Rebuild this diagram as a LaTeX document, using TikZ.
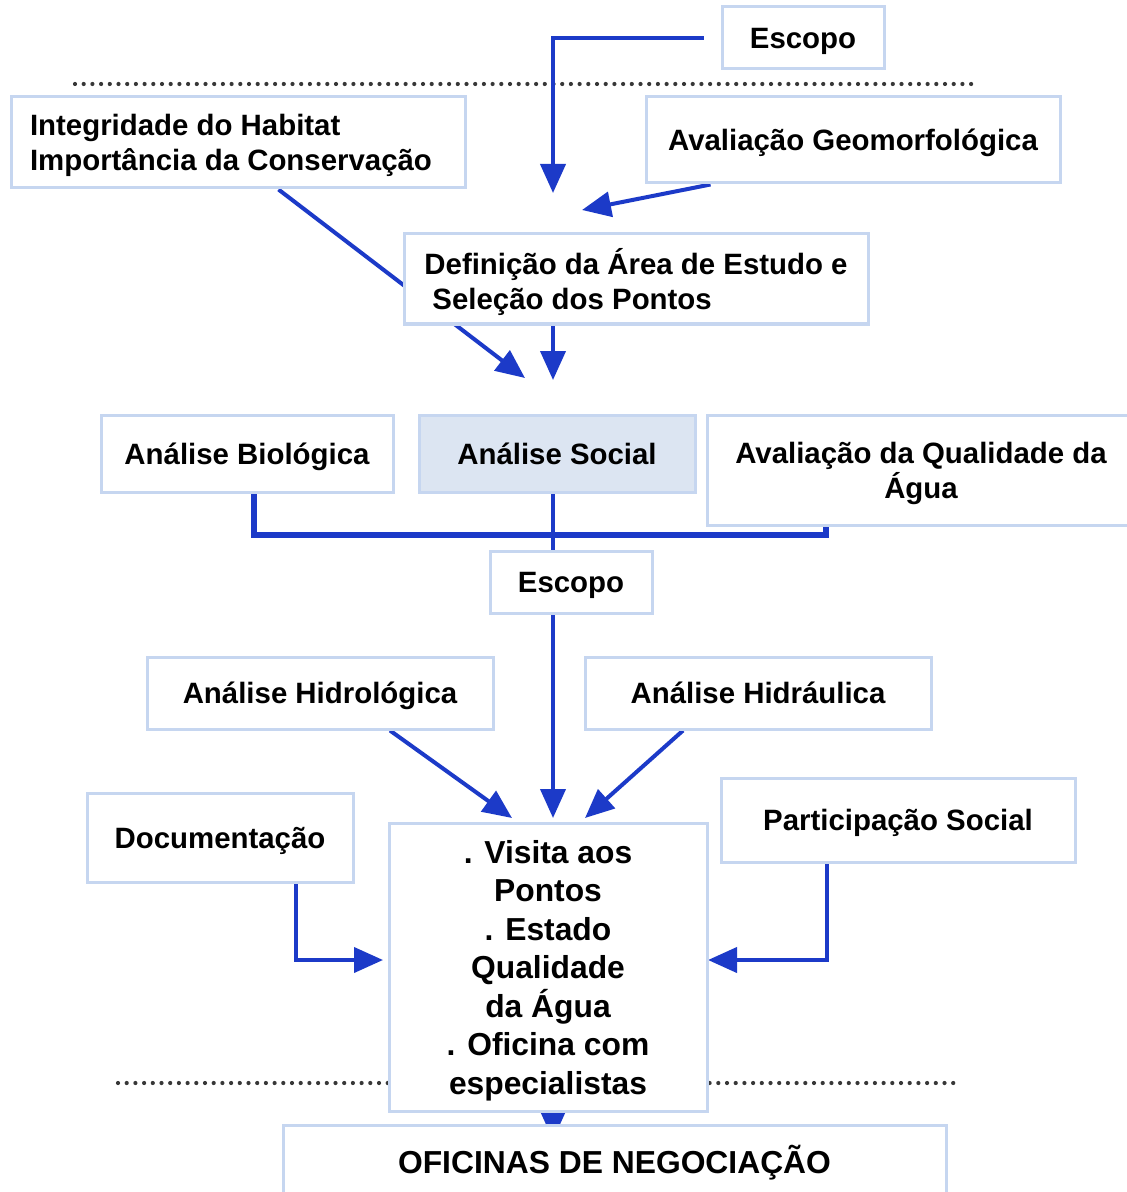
\documentclass[tikz,border=0pt]{standalone}
\usepackage{fontspec}
\setmainfont{Liberation Sans}
\usetikzlibrary{positioning,arrows.meta,calc}
\pgfdeclarelayer{bg}
\pgfsetlayers{bg,main}
\definecolor{boxline}{RGB}{198,214,240}
\definecolor{socialfill}{RGB}{220,229,242}
\definecolor{flowblue}{RGB}{28,58,200}
\definecolor{dotgray}{RGB}{55,55,55}
\tikzset{
	>={Triangle[length=14.5pt,width=12.5pt]}
}

\begin{document}
\begin{tikzpicture}[
x = 0.5pt, y = -0.5pt,
every node/.style = {
	font = \bfseries\fontsize{14.7pt}{17.5pt}\selectfont
},
box/.style = {
	draw = boxline,
	line width = 1.5pt,
	fill = white,
	align = center,
	inner sep = 0pt,
	text depth = 0pt
},
flow/.style = {
	->,
	flowblue,
	line width = 2pt
},
bus/.style = {
	flowblue,
	line width = 2.8pt
},
dots/.style = {
	dotgray,
	line width = 2.1pt,
	line cap = round,
	dash pattern = on 0pt off 4.35pt
}
]

\useasboundingbox (0,0) rectangle (1126,1192);

\node [box, minimum width=81pt, minimum height=31pt] (escopoTop) at (803,38) {Escopo};
\node [box, align=left, minimum width=227pt, minimum height=45.5pt] (habitat) at (238,142.5) {Integridade do Habitat\\Importância da Conservação\hspace*{7pt}};
\node [box, minimum width=207pt, minimum height=43pt] (geomorf) at (853,140) {Avaliação Geomorfológica};
\node [box, align=left, minimum width=232pt, minimum height=45pt] (area) at (636,279) {Definição da Área de Estudo e\\\hspace*{4pt}Seleção dos Pontos};

\node [box, minimum width=146pt, minimum height=38.5pt] (biol) at (247,453.5) {Análise Biológica};
\node [box, fill=socialfill, minimum width=138pt, minimum height=38.5pt] (social) at (557,453.5) {Análise Social};
\node [box, minimum width=214pt, minimum height=55pt] (agua) at (921,470) {Avaliação da Qualidade da\\Água};
\node [box, minimum width=81pt, minimum height=31pt] (escopoMid) at (571,582) {Escopo};

\node [box, minimum width=173pt, minimum height=36pt] (hidrol) at (320,693) {Análise Hidrológica};
\node [box, minimum width=173pt, minimum height=36pt] (hidrau) at (758,693) {Análise Hidráulica};
\node [box, minimum width=133pt, minimum height=44.5pt] (doc) at (220,837.5) {Documentação};
\node [box, minimum width=177pt, minimum height=42pt] (partic) at (898,820) {Participação Social};
\node [box, minimum width=159pt, minimum height=144pt, font=\bfseries\fontsize{15.9pt}{19.25pt}\selectfont] (visita) at (548,967) {. Visita aos\\Pontos\\. Estado\\Qualidade\\da Água\\. Oficina com\\especialistas};
\node [box, minimum width=331.5pt, minimum height=34pt, font=\bfseries\fontsize{15.9pt}{19pt}\selectfont] (oficinas) at (614.5,1159) {OFICINAS DE NEGOCIAÇÃO};

% free ends of the arrows
\coordinate (tipTop) at (553,193);
\coordinate (tipGeo) at (582,210);
\coordinate (tipHab) at (525,378);
\coordinate (tipArea) at (553,380);
\coordinate (busL) at (254,535);
\coordinate (busR) at (826,535);
\coordinate (tipMid) at (553,818);
\coordinate (tipHidrol) at (512,818);
\coordinate (tipHidrau) at (585,818);
\coordinate (tipDoc) at (383,960);
\coordinate (tipPart) at (708,960);
\coordinate (tipNeg) at (553,1140);

\begin{pgfonlayer}{bg}
\draw[dots] (75,84) -- (975,84);
\draw[dots] (118,1083) -- (960,1083);

\draw[flow, shorten <= 8.5pt] (escopoTop.west) -| (tipTop);
\draw[flow] ($(geomorf.south west)+(66,0)$) -- (tipGeo);
\draw[flow] ($(habitat.south west)+(269,0)$) -- (tipHab);
\draw[flow] (area.south -| tipArea) -- (tipArea);

\draw[bus] (biol.south -| busL) -- (busL) -- (busR) -- (agua.south -| busR);
\draw[bus, line width=2pt] (social.south -| tipMid) -- (escopoMid.north -| tipMid);
\draw[flow] (escopoMid.south -| tipMid) -- (tipMid);

\draw[flow] ($(hidrol.south)+(70,0)$) -- (tipHidrol);
\draw[flow] ($(hidrau.south)+(-75,0)$) -- (tipHidrau);
\draw[flow] ($(doc.south)+(76,0)$) |- (tipDoc);
\draw[flow] ($(partic.south)+(-71,0)$) |- (tipPart);
\draw[flow] (visita.south -| tipMid) -- (tipNeg);
\end{pgfonlayer}

\end{tikzpicture}
\end{document}
